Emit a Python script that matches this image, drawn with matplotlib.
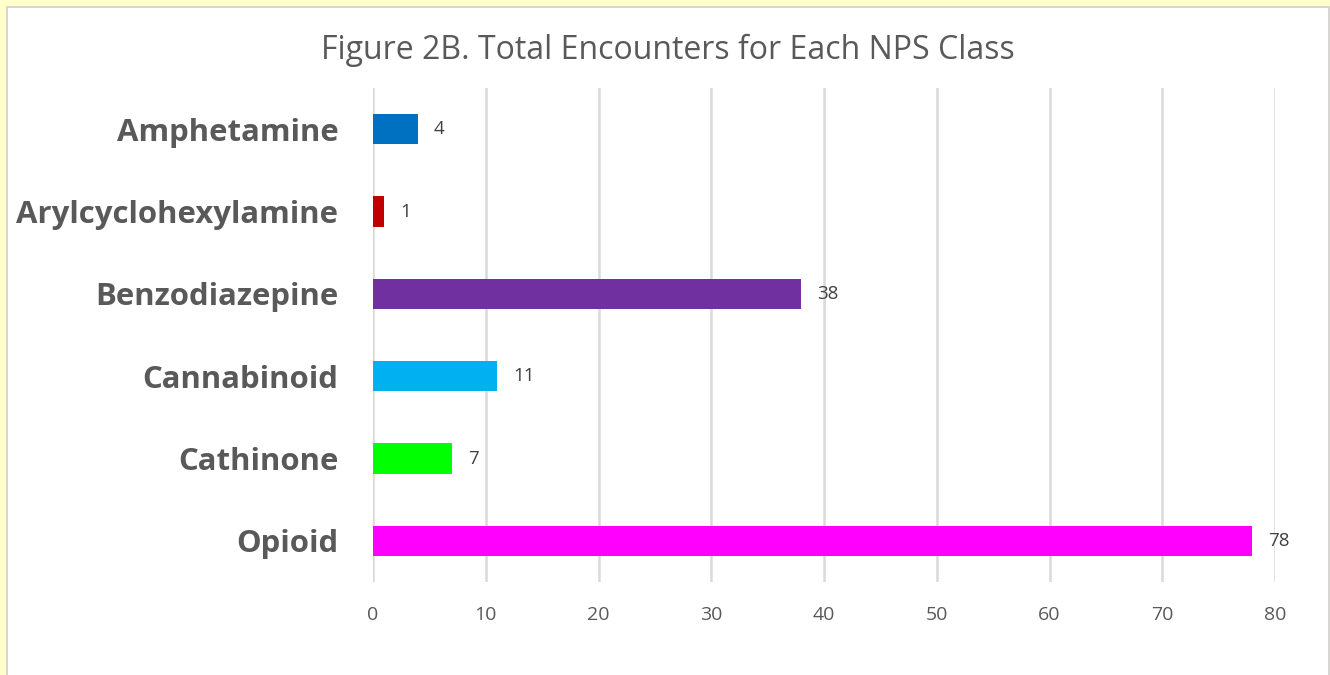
import matplotlib.pyplot as plt
from matplotlib.patches import Rectangle

# data
classes = ['Amphetamine', 'Arylcyclohexylamine', 'Benzodiazepine',
           'Cannabinoid', 'Cathinone', 'Opioid']
encounters = [4, 1, 38, 11, 7, 78]
bar_colors = ['#0070C0', '#C00000', '#7030A0', '#00B0F0', '#00FF00', '#FF00FF']
xticks = [0, 10, 20, 30, 40, 50, 60, 70, 80]

W, H = 1330, 675
fig = plt.figure(figsize=(W / 100, H / 100), dpi=100)
fig.patch.set_facecolor('#FFFFCC')

# white chart area with thin gray border, yellow band round it
fig.patches.append(Rectangle((7 / W, -0.01), (1329 - 7) / W, (H - 7) / H + 0.01,
                             transform=fig.transFigure, facecolor='white',
                             edgecolor='#D0D0D0', linewidth=1.2, zorder=-5))

ax = fig.add_axes([373 / W, 1 - 582 / H, (1275 - 373) / W, (582 - 88) / H])
ax.set_zorder(2)
ax.set_facecolor('none')

y = list(range(len(classes)))
ax.barh(y, encounters, height=0.37, color=bar_colors, zorder=3)
for yi, v in zip(y, encounters):
    ax.text(v + 1.4, yi, str(v), va='center', ha='left', fontsize=13.5,
            color='#404040', family='Open Sans')

ax.set_xlim(0, 80)
ax.set_ylim(len(classes) - 0.5, -0.5)
ax.set_xticks(xticks)
ax.set_yticks(y)
ax.set_yticklabels(classes, fontsize=22.4, fontweight='bold', color='#595959',
                   family='Open Sans')
for lbl in ax.get_xticklabels():
    lbl.set_family('Open Sans')
ax.tick_params(axis='x', labelsize=14, colors='#595959', length=0, pad=17)
ax.tick_params(axis='y', length=0, pad=25)
ax.grid(axis='x', color='#D9D9D9', linewidth=1.8, zorder=0)
for s in ax.spines.values():
    s.set_visible(False)

fig.text(668 / W, 1 - 50 / H, 'Figure 2B. Total Encounters for Each NPS Class',
         ha='center', va='center', fontsize=23, color='#595959', family='Open Sans')

fig.savefig('out.png', dpi=100, facecolor=fig.get_facecolor())
